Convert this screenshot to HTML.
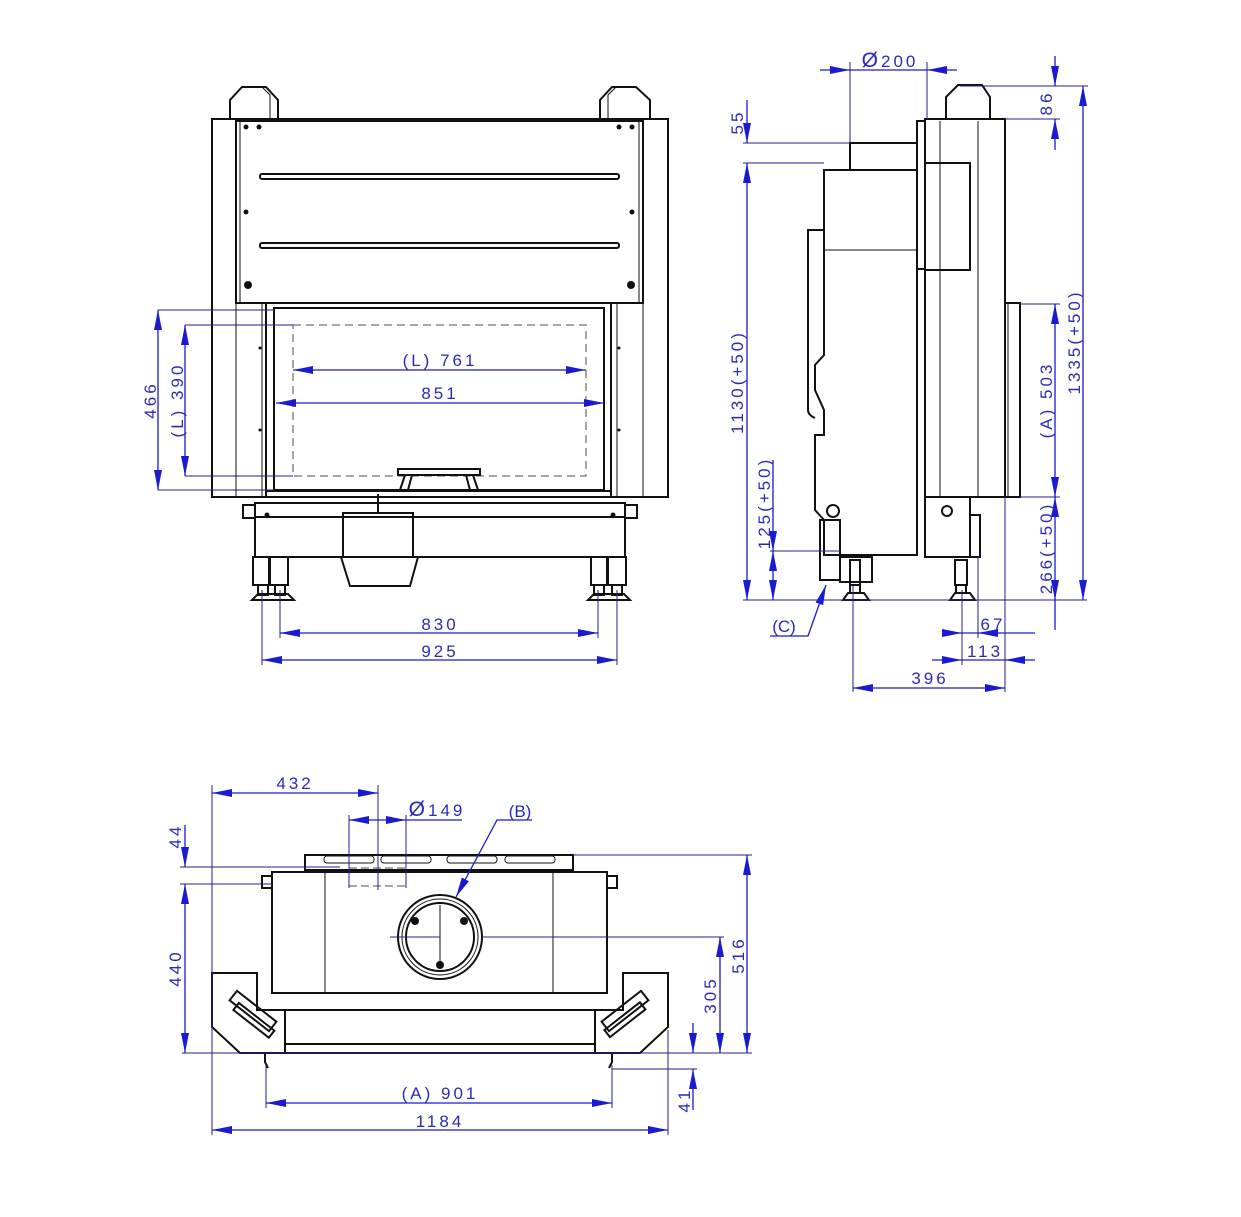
<!DOCTYPE html>
<html><head><meta charset="utf-8"><style>
html,body{margin:0;padding:0;background:#fff}
svg{display:block}
.k{fill:none;stroke:#111;stroke-width:2}
.t{fill:none;stroke:#111;stroke-width:1}
.b{fill:none;stroke:#1a1ad0;stroke-width:1.3}
.e{fill:none;stroke:#22228a;stroke-width:1}
.g{fill:none;stroke:#888;stroke-width:1.5;stroke-dasharray:8 5}
text{font-family:"Liberation Sans",sans-serif;font-size:17px;fill:#2a2ab8;letter-spacing:3px}
.d{fill:#111}
</style></head><body>
<svg width="1241" height="1217" viewBox="0 0 1241 1217" xmlns="http://www.w3.org/2000/svg">
<defs>
<marker id="a" viewBox="0 0 20 8" refX="20" refY="4" markerWidth="20" markerHeight="8" orient="auto-start-reverse" markerUnits="userSpaceOnUse"><path d="M0,0 L20,4 L0,8z" fill="#1a1ad0"/></marker>
</defs>

<!-- ============ FRONT VIEW ============ -->
<path class="k" d="M230,119 V100 L242,87 H266 L278,100 V119"/>
<path class="k" d="M600,119 V100 L612,87 H636 L650,100 V119"/>
<path class="t" d="M270,119 V95 L262,87 M608,119 V95 L616,87"/>
<rect class="k" x="212" y="119" width="456" height="378"/>
<rect class="k" x="236" y="121" width="407" height="182"/>
<line class="t" x1="240" y1="121" x2="240" y2="303"/><line class="t" x1="639" y1="121" x2="639" y2="303"/>
<rect class="k" x="260" y="174" width="359" height="5" rx="2"/>
<rect class="k" x="260" y="243" width="359" height="5" rx="2"/>
<line class="t" x1="236" y1="303" x2="236" y2="497"/><line class="t" x1="643" y1="303" x2="643" y2="497"/>
<line class="t" x1="262" y1="303" x2="262" y2="497"/><line class="t" x1="617" y1="303" x2="617" y2="497"/>
<rect class="k" x="266" y="303" width="345" height="194"/>
<rect class="k" x="274" y="308" width="330" height="182"/>
<rect class="g" x="293" y="325" width="293" height="151"/>
<rect class="k" x="398" y="469" width="82" height="6"/>
<path class="k" d="M405,475 L400,490 M473,475 L478,490 M412,475 L408,490 M466,475 L470,490"/>
<line class="k" x1="266" y1="491" x2="611" y2="491"/>
<rect class="k" x="255" y="503" width="370" height="54"/>
<rect class="k" x="243" y="505" width="12" height="13"/><rect class="k" x="625" y="505" width="12" height="13"/>
<line class="k" x1="255" y1="517" x2="625" y2="517"/>
<rect class="k" x="343" y="513" width="70" height="44"/>
<path class="k" d="M341,557 L350,586 H410 L418,557"/>
<line class="k" x1="378" y1="494" x2="378" y2="513"/>
<g class="k">
<rect x="253" y="557" width="16" height="28"/><rect x="270" y="557" width="18" height="28"/>
<rect x="591" y="557" width="16" height="28"/><rect x="608" y="557" width="18" height="28"/>
<path d="M252,600 L258,594 H288 L294,600z M588,600 L594,594 H624 L630,600z"/>
<rect x="258" y="585" width="10" height="10"/><rect x="275" y="585" width="10" height="10"/>
<rect x="594" y="585" width="10" height="10"/><rect x="612" y="585" width="10" height="10"/>
</g>
<g class="d">
<circle cx="246" cy="127" r="2.5"/><circle cx="259" cy="127" r="2.5"/><circle cx="619" cy="127" r="2.5"/><circle cx="632" cy="127" r="2.5"/>
<circle cx="246" cy="212" r="2.5"/><circle cx="632" cy="212" r="2.5"/>
<circle cx="248" cy="285" r="4"/><circle cx="631" cy="285" r="4"/>
<circle cx="260" cy="348" r="1.5"/><circle cx="260" cy="430" r="1.5"/><circle cx="619" cy="348" r="1.5"/><circle cx="619" cy="430" r="1.5"/>
<circle cx="267" cy="515" r="2.5"/><circle cx="613" cy="515" r="2.5"/>
</g>

<!-- front dims -->
<line class="e" x1="158" y1="310" x2="274" y2="310"/>
<line class="e" x1="158" y1="490" x2="274" y2="490"/>
<line class="e" x1="185" y1="325" x2="293" y2="325"/>
<line class="e" x1="185" y1="476" x2="293" y2="476"/>
<line class="b" x1="158" y1="310" x2="158" y2="490" marker-start="url(#a)" marker-end="url(#a)"/>
<line class="b" x1="185" y1="325" x2="185" y2="476" marker-start="url(#a)" marker-end="url(#a)"/>
<text transform="translate(156,400) rotate(-90)" text-anchor="middle">466</text>
<text transform="translate(183,400) rotate(-90)" text-anchor="middle">(L) 390</text>
<line class="b" x1="293" y1="370" x2="586" y2="370" marker-start="url(#a)" marker-end="url(#a)"/>
<text x="440" y="366" text-anchor="middle">(L) 761</text>
<line class="b" x1="276" y1="403" x2="604" y2="403" marker-start="url(#a)" marker-end="url(#a)"/>
<text x="440" y="399" text-anchor="middle">851</text>
<line class="e" x1="262" y1="590" x2="262" y2="665"/><line class="e" x1="280" y1="590" x2="280" y2="638"/>
<line class="e" x1="598" y1="590" x2="598" y2="638"/><line class="e" x1="617" y1="590" x2="617" y2="665"/>
<line class="b" x1="280" y1="633" x2="598" y2="633" marker-start="url(#a)" marker-end="url(#a)"/>
<text x="440" y="630" text-anchor="middle">830</text>
<line class="b" x1="262" y1="660" x2="617" y2="660" marker-start="url(#a)" marker-end="url(#a)"/>
<text x="440" y="657" text-anchor="middle">925</text>

<!-- ============ SIDE VIEW ============ -->
<path class="k" d="M946,119 V97 L958,85 H982 L990,97 V119"/>
<rect class="k" x="850" y="143" width="67" height="27"/>
<path class="k" d="M824,170 H917 V555 H824 V520 L815,510 V435 H824 V410 L815,390 V365 L824,355 Z"/>
<path class="k" d="M824,230 H808 V410 Q808,415 815,418"/>
<line class="t" x1="824" y1="250" x2="917" y2="250"/>
<rect class="k" x="917" y="121" width="8" height="148"/>
<rect class="k" x="925" y="119" width="80" height="378"/>
<line class="t" x1="978" y1="121" x2="978" y2="497"/><line class="t" x1="940" y1="121" x2="940" y2="497"/>
<rect class="k" x="925" y="163" width="45" height="107"/>
<path class="k" d="M1005,119 V303 H1020 V497 H1005"/>
<line class="t" x1="1008" y1="303" x2="1008" y2="497"/>
<rect class="k" x="925" y="497" width="45" height="60"/>
<circle class="k" cx="947" cy="511" r="5"/>
<rect class="k" x="970" y="515" width="10" height="42"/>
<rect class="k" x="820" y="520" width="20" height="60"/>
<circle class="k" cx="833" cy="511" r="6"/>
<rect class="k" x="840" y="557" width="32" height="25"/>
<g class="k">
<rect x="850" y="560" width="10" height="25"/><path d="M843,600 L848,593 H864 L869,600z"/><rect x="850" y="585" width="10" height="8"/>
<rect x="955" y="560" width="12" height="25"/><path d="M950,600 L955,593 H970 L975,600z"/><rect x="956" y="585" width="10" height="8"/>
</g>
<!-- side dims -->
<line class="e" x1="850" y1="62" x2="850" y2="143"/><line class="e" x1="927" y1="62" x2="927" y2="119"/>
<line class="b" x1="820" y1="70" x2="957" y2="70"/>
<path d="M850,70 l-20,-4 v8z M927,70 l20,-4 v8z" fill="#1a1ad0"/>
<text x="890" y="67" text-anchor="middle"><tspan style="font-size:21px">Ø</tspan>200</text>
<line class="e" x1="743" y1="143" x2="850" y2="143"/><line class="e" x1="743" y1="163" x2="824" y2="163"/>
<line class="b" x1="747" y1="100" x2="747" y2="143" marker-end="url(#a)"/>
<line class="b" x1="747" y1="163" x2="747" y2="600" marker-start="url(#a)" marker-end="url(#a)"/>
<text transform="translate(743,122) rotate(-90)" text-anchor="middle">55</text>
<text transform="translate(743,382) rotate(-90)" text-anchor="middle">1130(+50)</text>
<line class="e" x1="743" y1="600" x2="1087" y2="600"/>
<line class="e" x1="770" y1="551" x2="840" y2="551"/>
<line class="b" x1="773" y1="460" x2="773" y2="551" marker-end="url(#a)"/>
<line class="b" x1="773" y1="551" x2="773" y2="600" marker-start="url(#a)" marker-end="url(#a)"/>
<text transform="translate(770,503) rotate(-90)" text-anchor="middle">125(+50)</text>
<line class="e" x1="960" y1="86" x2="1088" y2="86"/><line class="e" x1="1005" y1="119" x2="1060" y2="119"/>
<line class="b" x1="1055" y1="56" x2="1055" y2="86" marker-end="url(#a)"/>
<line class="b" x1="1055" y1="150" x2="1055" y2="119" marker-end="url(#a)"/>
<text transform="translate(1052,103) rotate(-90)" text-anchor="middle">86</text>
<line class="b" x1="1083" y1="86" x2="1083" y2="600" marker-start="url(#a)" marker-end="url(#a)"/>
<text transform="translate(1080,342) rotate(-90)" text-anchor="middle">1335(+50)</text>
<line class="e" x1="1020" y1="304" x2="1060" y2="304"/><line class="e" x1="1020" y1="497" x2="1060" y2="497"/>
<line class="b" x1="1055" y1="304" x2="1055" y2="497" marker-start="url(#a)" marker-end="url(#a)"/>
<text transform="translate(1052,400) rotate(-90)" text-anchor="middle">(A) 503</text>
<line class="b" x1="1055" y1="497" x2="1055" y2="600" marker-start="url(#a)" marker-end="url(#a)"/>
<line class="b" x1="1055" y1="600" x2="1055" y2="630"/>
<text transform="translate(1052,548) rotate(-90)" text-anchor="middle">266(+50)</text>
<line class="e" x1="853" y1="585" x2="853" y2="692"/><line class="e" x1="962" y1="590" x2="962" y2="665"/>
<line class="e" x1="978" y1="557" x2="978" y2="638"/><line class="e" x1="1005" y1="497" x2="1005" y2="692"/>
<line class="b" x1="950" y1="633" x2="1035" y2="633"/>
<path d="M962,633 l-20,-4 v8z M978,633 l20,-4 v8z" fill="#1a1ad0"/>
<text x="993" y="630" text-anchor="middle">67</text>
<line class="b" x1="932" y1="660" x2="1035" y2="660"/>
<path d="M962,660 l-20,-4 v8z M1005,660 l20,-4 v8z" fill="#1a1ad0"/>
<text x="985" y="657" text-anchor="middle">113</text>
<line class="b" x1="853" y1="688" x2="1005" y2="688" marker-start="url(#a)" marker-end="url(#a)"/>
<text x="930" y="684" text-anchor="middle">396</text>
<path class="b" d="M770,636 H808 L826,585" marker-end="url(#a)"/>
<text x="784" y="632" text-anchor="middle" style="letter-spacing:0">(C)</text>

<!-- ============ TOP VIEW ============ -->
<rect class="k" x="305" y="855" width="268" height="15"/>
<g class="t"><rect x="324" y="856" width="50" height="7" rx="3"/><rect x="381" y="856" width="50" height="7" rx="3"/><rect x="447" y="856" width="50" height="7" rx="3"/><rect x="505" y="856" width="50" height="7" rx="3"/></g>
<rect class="k" x="272" y="872" width="335" height="121"/>
<rect class="k" x="262" y="876" width="10" height="12"/><rect class="k" x="607" y="876" width="10" height="12"/>
<line class="t" x1="325" y1="872" x2="325" y2="993"/><line class="t" x1="553" y1="872" x2="553" y2="993"/>
<circle class="k" cx="440" cy="937" r="42"/><circle class="t" cx="440" cy="937" r="38"/><circle class="k" cx="440" cy="937" r="34"/>
<line class="t" x1="440" y1="905" x2="440" y2="965"/>
<g class="d"><circle cx="415" cy="921" r="4"/><circle cx="464" cy="921" r="4"/><circle cx="440" cy="965" r="4"/></g>
<line class="g" x1="349" y1="868" x2="406" y2="868" style="stroke-dasharray:8 4"/>
<line class="g" x1="349" y1="886" x2="406" y2="886" style="stroke-dasharray:8 4"/>
<path class="k" d="M212,973 H257 V1010 H623 V973 H668 V1027 L640,1053 H240 L212,1027 Z"/>
<line class="k" x1="285" y1="1010" x2="285" y2="1053"/><line class="k" x1="595" y1="1010" x2="595" y2="1053"/>
<rect class="k" x="285" y="1044" width="310" height="9"/>
<g class="k"><rect x="228" y="1005" width="50" height="12" transform="rotate(38 253 1011)"/><rect x="232" y="1015" width="45" height="9" transform="rotate(38 253 1019)"/>
<rect x="600" y="1005" width="50" height="12" transform="rotate(-38 625 1011)"/><rect x="602" y="1015" width="45" height="9" transform="rotate(-38 625 1019)"/></g>
<path class="k" d="M265,1053 V1062 L268,1068 M612,1053 V1062 L609,1068"/>
<!-- top dims -->
<line class="e" x1="212" y1="785" x2="212" y2="1135"/><line class="e" x1="668" y1="1030" x2="668" y2="1135"/>
<line class="e" x1="378" y1="785" x2="378" y2="890"/>
<line class="b" x1="212" y1="793" x2="378" y2="793" marker-start="url(#a)" marker-end="url(#a)"/>
<text x="295" y="789" text-anchor="middle">432</text>
<line class="e" x1="349" y1="815" x2="349" y2="888"/><line class="e" x1="406" y1="815" x2="406" y2="888"/>
<line class="b" x1="349" y1="820" x2="462" y2="820"/>
<path d="M349,820 l20,-4 v8z M406,820 l-20,-4 v8z" fill="#1a1ad0"/>
<text x="437" y="816" text-anchor="middle"><tspan style="font-size:21px">Ø</tspan>149</text>
<path class="b" d="M532,820 H497 L456,897" marker-end="url(#a)"/>
<text x="520" y="817" text-anchor="middle" style="letter-spacing:0">(B)</text>
<line class="e" x1="180" y1="867" x2="340" y2="867"/><line class="e" x1="180" y1="884" x2="272" y2="884"/>
<line class="b" x1="185" y1="825" x2="185" y2="867" marker-end="url(#a)"/>
<line class="b" x1="185" y1="884" x2="185" y2="1053" marker-start="url(#a)" marker-end="url(#a)"/>
<text transform="translate(181,836) rotate(-90)" text-anchor="middle">44</text>
<text transform="translate(181,968) rotate(-90)" text-anchor="middle">440</text>
<line class="e" x1="182" y1="1053" x2="752" y2="1053"/>
<line class="e" x1="573" y1="855" x2="752" y2="855"/>
<line class="e" x1="482" y1="937" x2="724" y2="937"/>
<line class="e" x1="390" y1="937" x2="440" y2="937"/>
<line class="b" x1="747" y1="855" x2="747" y2="1053" marker-start="url(#a)" marker-end="url(#a)"/>
<text transform="translate(744,955) rotate(-90)" text-anchor="middle">516</text>
<line class="b" x1="720" y1="937" x2="720" y2="1053" marker-start="url(#a)" marker-end="url(#a)"/>
<text transform="translate(716,995) rotate(-90)" text-anchor="middle">305</text>
<line class="e" x1="612" y1="1069" x2="697" y2="1069"/>
<line class="b" x1="693" y1="1023" x2="693" y2="1053" marker-end="url(#a)"/>
<line class="b" x1="693" y1="1110" x2="693" y2="1069" marker-end="url(#a)"/>
<text transform="translate(690,1100) rotate(-90)" text-anchor="middle">41</text>
<line class="e" x1="266" y1="1065" x2="266" y2="1108"/><line class="e" x1="612" y1="1065" x2="612" y2="1108"/>
<line class="b" x1="266" y1="1103" x2="612" y2="1103" marker-start="url(#a)" marker-end="url(#a)"/>
<text x="440" y="1099" text-anchor="middle">(A) 901</text>
<line class="b" x1="212" y1="1130" x2="668" y2="1130" marker-start="url(#a)" marker-end="url(#a)"/>
<text x="440" y="1127" text-anchor="middle">1184</text>
</svg>
</body></html>
